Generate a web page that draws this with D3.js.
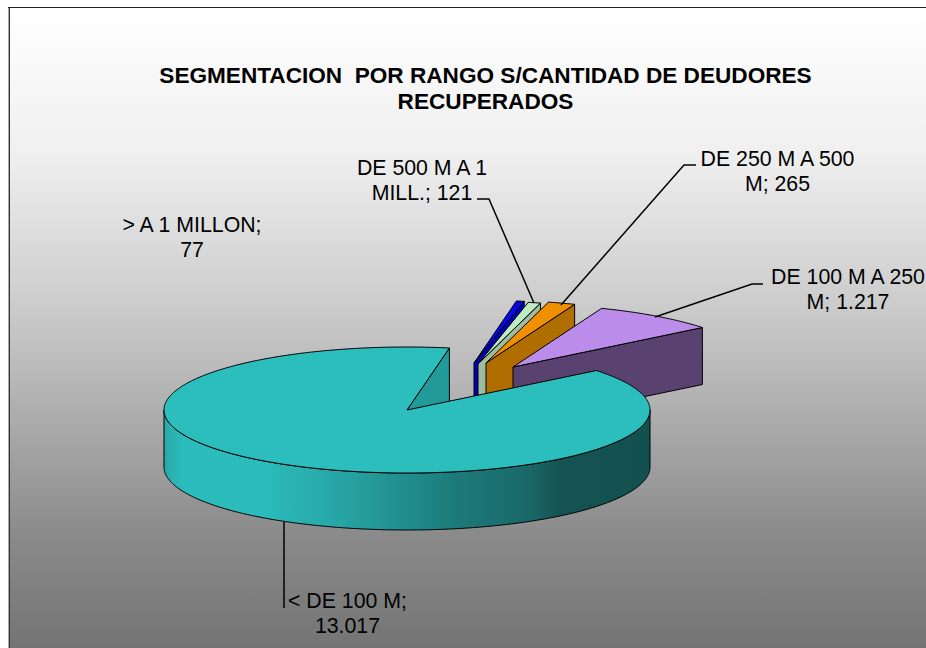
<!DOCTYPE html>
<html>
<head>
<meta charset="utf-8">
<script src="https://cdn.jsdelivr.net/npm/d3@7"></script>
<style>
    html, body { margin: 0; padding: 0; background: #fff; overflow: hidden; }
    text { font-family: "Liberation Sans", Arial, sans-serif; fill: #000; }
</style>
</head>
<body>
<svg id="chart" width="926" height="648"></svg>
<script>
// chart data, clockwise from the big slice
const categories = ["< DE 100 M", "> A 1 MILLON", "DE 500 M A 1 MILL.", "DE 250 M A 500 M", "DE 100 M A 250 M"];
const deudores = [13017, 77, 121, 265, 1217];
const titleLines = ["SEGMENTACION  POR RANGO S/CANTIDAD DE DEUDORES", "RECUPERADOS"];

// first line of every label, the rest wraps to the second line
const labelFirstLines = ["< DE 100 M;", "> A 1 MILLON;", "DE 500 M A 1", "DE 250 M A 500", "DE 100 M A 250"];

// layout
const width = 926, height = 648;
const center = { x: 407, y: 410 }, rx = 243, ry = 63, depth = 57;
const firstAngle = 51.2 * Math.PI / 180;

// how far each slice is pulled out of the pie, px
const explode = [[0, 0], [67, -47], [71, -46], [79, -47], [106, -43]];

const topColors = ["#2cbdbd", "#0808e6", "#bdecc0", "#f09000", "#bb8cea"];
const sideColors = ["#229a9a", "#0000b8", "#9dbd9f", "#b06d00", "#5a4270"];

const labelPos = [
    { x: 347.5, y: 608, line: [[284, 522], [284, 608]] },
    { x: 192, y: 232, line: null },
    { x: 422, y: 175, line: [[477, 199], [489, 199], [534, 303]] },
    { x: 777.5, y: 166, line: [[696, 165], [684, 165], [561, 305]] },
    { x: 848, y: 284, line: [[763, 284], [752, 284], [655, 317]] }
];

const svg = d3.select("#chart");

// es-style number format, 13.017
const fmt = d3.formatLocale({ decimal: ",", thousands: ".", grouping: [3], currency: ["", ""] }).format(",d");

const defs = svg.append("defs");

const bg = defs.append("linearGradient").attr("id", "bg")
    .attr("gradientUnits", "userSpaceOnUse")
    .attr("x1", 0).attr("y1", 0).attr("x2", 0).attr("y2", height);
[[8, 255], [150, 240], [300, 205], [345, 193], [540, 137], [648, 116]].forEach(d => {
    bg.append("stop").attr("offset", d[0] / height).attr("stop-color", d3.rgb(d[1], d[1], d[1]));
});

// shading on the round wall of the big slice
const wall = defs.append("linearGradient").attr("id", "wall")
    .attr("gradientUnits", "userSpaceOnUse")
    .attr("x1", center.x - rx).attr("y1", 0).attr("x2", center.x + rx).attr("y2", 0);
[[0, "#2aa8a8"], [0.04, "#2cbcbc"], [0.2, "#2cbcbc"], [0.34, "#28a8a8"], [0.48, "#219090"],
 [0.6, "#1d7a7a"], [0.74, "#1a6a6a"], [0.82, "#155252"], [1, "#135050"]].forEach(d => {
    wall.append("stop").attr("offset", d[0]).attr("stop-color", d[1]);
});

// background + frame
svg.append("rect").attr("x", 9).attr("y", 8).attr("width", width - 9).attr("height", height - 8).attr("fill", "url(#bg)");
svg.append("line").attr("x1", 8).attr("x2", width).attr("y1", 7.5).attr("y2", 7.5).attr("stroke", "#222");
svg.append("line").attr("x1", 8.5).attr("x2", 8.5).attr("y1", 8).attr("y2", height).attr("stroke", "#aaa");
svg.append("line").attr("x1", 9.5).attr("x2", 9.5).attr("y1", 8).attr("y2", height).attr("stroke", "#333");

const xScale = d3.scaleLinear().domain([-1, 1]).range([center.x - rx, center.x + rx]);
const yScale = d3.scaleLinear().domain([-1, 1]).range([center.y - ry, center.y + ry]);

const pie = d3.pie().sort(null).startAngle(firstAngle).endAngle(firstAngle + 2 * Math.PI);
const arcs = pie(deudores);

const path = d3.line().x(d => d[0]).y(d => d[1]);

function rim(a, off, dy = 0) {
    return [xScale(Math.sin(a)) + off[0], yScale(-Math.cos(a)) + off[1] + dy];
}

function arcPoints(a0, a1, off, dy = 0) {
    const n = Math.max(2, Math.ceil((a1 - a0) * 90));
    return d3.range(n + 1).map(i => rim(a0 + (a1 - a0) * i / n, off, dy));
}

function drawSlice(arc) {
    const i = arc.index;
    const off = explode[i];
    const a0 = arc.startAngle, a1 = arc.endAngle;
    const apex = [xScale(0) + off[0], yScale(0) + off[1]];
    const g = svg.append("g");

    // flat cut faces, only the ones turned to the viewer
    [[a1, Math.sin(a1) > 0], [a0, Math.sin(a0) < 0]].forEach(([a, visible]) => {
        if (!visible) return;
        const p = rim(a, off);
        g.append("path")
            .attr("d", path([apex, p, [p[0], p[1] + depth], [apex[0], apex[1] + depth]]) + "Z")
            .attr("fill", sideColors[i]).attr("stroke", "#000");
    });

    // round wall, front half only (90deg to 270deg)
    const w0 = Math.max(a0, Math.PI / 2), w1 = Math.min(a1, Math.PI * 1.5);
    if (w1 > w0) {
        const pts = arcPoints(w0, w1, off).concat(arcPoints(w0, w1, off, depth).reverse());
        g.append("path").attr("d", path(pts) + "Z")
            .attr("fill", "url(#wall)").attr("stroke", "#000");
    }

    // top
    g.append("path")
        .attr("d", path([apex].concat(arcPoints(a0, a1, off))) + "Z")
        .attr("fill", topColors[i]).attr("stroke", "#000");
}

// small slices sit behind the big one
arcs.slice(1).concat(arcs[0]).forEach(drawSlice);

// title
svg.append("g").selectAll("text").data(titleLines).join("text")
    .attr("x", 485.5)
    .attr("y", (d, i) => 83 + i * 26)
    .attr("text-anchor", "middle")
    .attr("font-weight", "bold")
    .attr("font-size", 22.6)
    .attr("xml:space", "preserve")
    .style("white-space", "pre")
    .text(d => d);

// leader lines + labels
labelPos.forEach((l, i) => {
    if (l.line) {
        svg.append("path").attr("d", path(l.line))
            .attr("fill", "none").attr("stroke", "#000").attr("stroke-width", 1.5);
    }
    const full = categories[i] + "; " + fmt(deudores[i]);
    const first = labelFirstLines[i];
    const rest = full.slice(first.length).trim();
    [first, rest].forEach((t, k) => {
        svg.append("text")
            .attr("x", l.x)
            .attr("y", l.y + k * 24.5)
            .attr("text-anchor", "middle")
            .attr("font-size", 21.3)
            .text(t);
    });
});
</script>
</body>
</html>
